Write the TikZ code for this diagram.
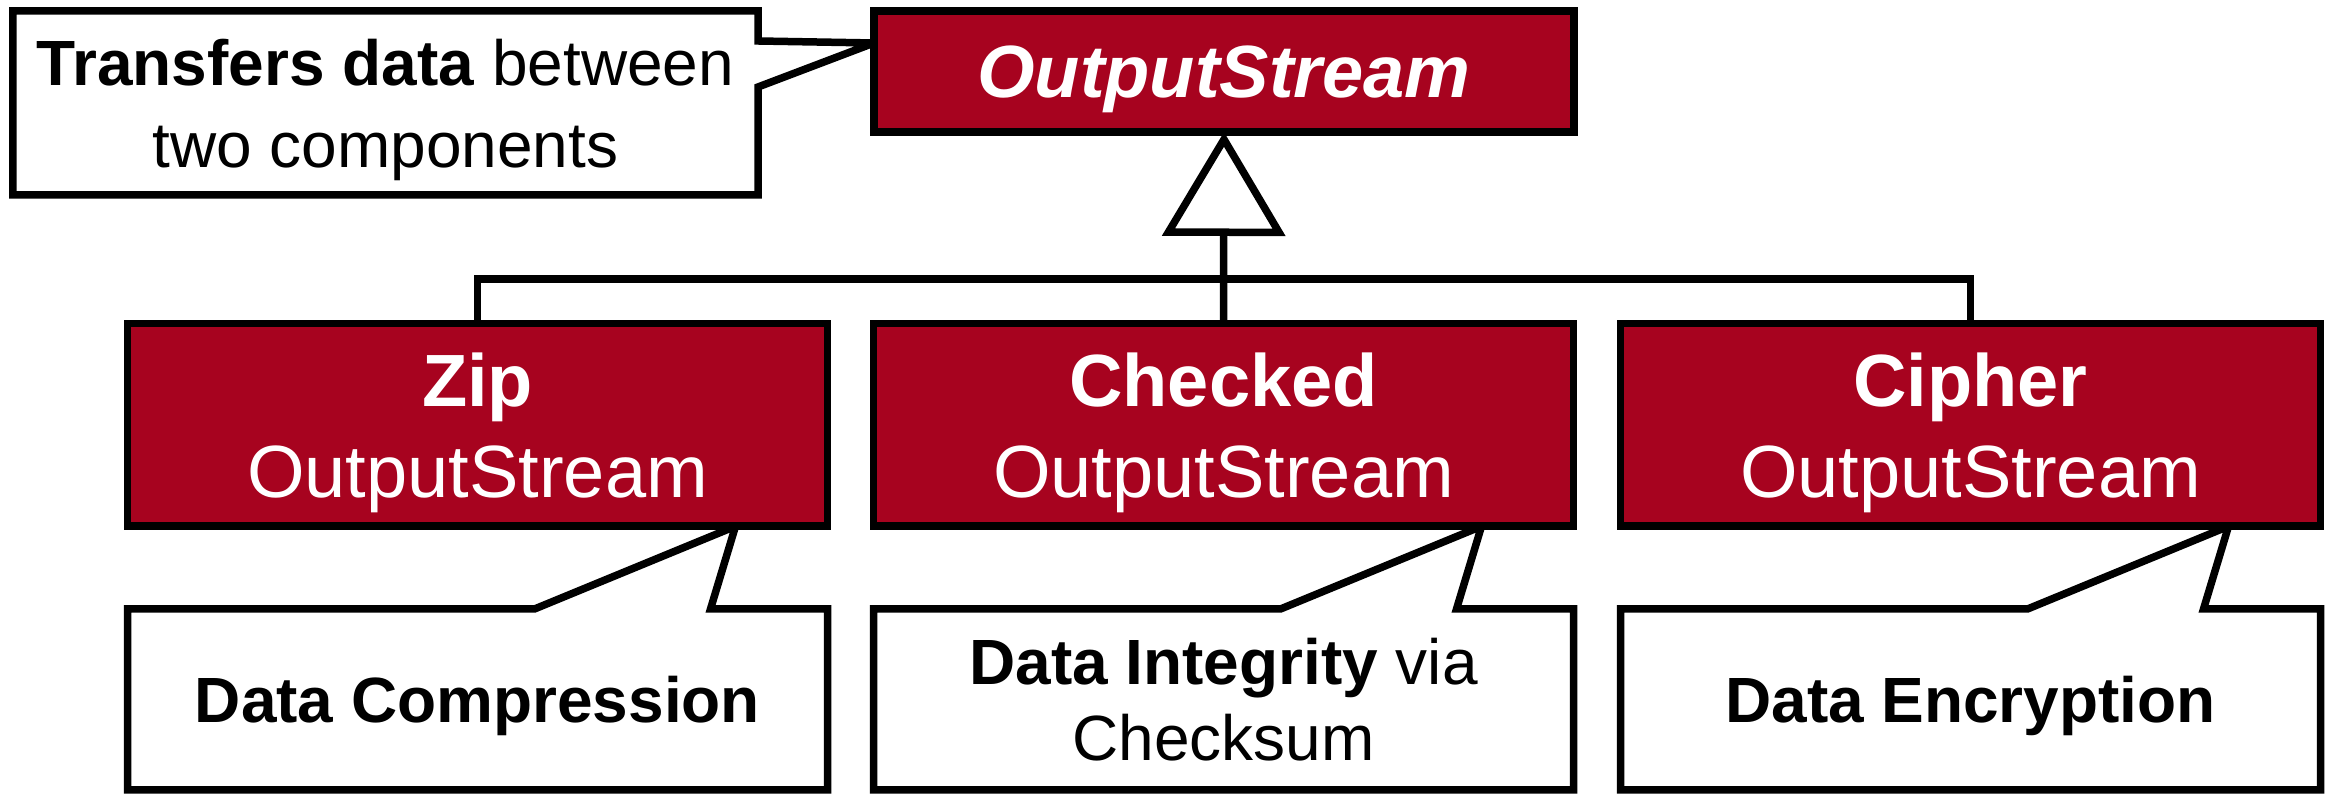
\documentclass[tikz,border=0pt]{standalone}
\usepackage{fontspec}
\setmainfont{Liberation Sans}
\usetikzlibrary{arrows.meta,calc}
\definecolor{classred}{RGB}{167,3,31}
\pgfdeclarelayer{bg}
\pgfdeclarelayer{mid}
\pgfsetlayers{bg,mid,main}
\tikzset{
  lw/.style={line width=0.075cm, line join=miter},
  classbox/.style={lw, draw=black, fill=classred, text=white, align=center,
    minimum width=7.00cm, minimum height=2.025cm, inner sep=0pt, outer sep=0pt,
    text depth=0pt, font=\fontsize{21.06}{25.9}\selectfont},
  topbox/.style={classbox, minimum height=1.21cm},
  notebody/.style={draw=none, align=center, inner sep=0pt, outer sep=0pt,
    minimum width=7.00cm, minimum height=1.81cm, text depth=0pt,
    font=\fontsize{18.2}{21.6}\selectfont},
  noteline/.style={lw, draw=black, fill=white},
  conn/.style={lw, draw=black},
  gen/.style={conn, -{Triangle[open, length=1.04cm, width=1.22cm]}}
}
\begin{document}
\begin{tikzpicture}
\useasboundingbox (0,0) rectangle (23.30,-7.95);
\begin{pgfonlayer}{bg}
  \fill[white] (0,0) rectangle (23.30,-7.95);
\end{pgfonlayer}

% class boxes
\node[topbox] (top) at (12.24,-0.715) {\bfseries\itshape OutputStream};
\node[classbox] (zip) at (4.775,-4.25) {\bfseries Zip\\OutputStream};
\node[classbox] (checked) at (12.235,-4.25) {\bfseries Checked\\OutputStream};
\node[classbox] (cipher) at (19.705,-4.25) {\bfseries Cipher\\OutputStream};

% notes (bodies with text)
\node[notebody, minimum width=7.45cm, minimum height=1.84cm,
  font=\fontsize{18.2}{23.3}\selectfont] (topnote) at (3.855,-1.03)
  {\textbf{Transfers data} between\\two components};
\node[notebody] (zipnote) at (4.775,-6.995) {\bfseries Data Compression};
\node[notebody] (checkednote) at (12.235,-6.995) {\textbf{Data Integrity} via\\Checksum};
\node[notebody] (ciphernote) at (19.705,-6.995) {\bfseries Data Encryption};

\coordinate (bar) at (12.235,-2.79);
\coordinate (toptip) at ($(top.north west)+(0,-0.32)$);
\coordinate (ziptip) at ($(zip.south west)+(6.08,0)$);
\coordinate (checkedtip) at ($(checked.south west)+(6.08,0)$);
\coordinate (ciphertip) at ($(cipher.south west)+(6.08,0)$);

\begin{pgfonlayer}{mid}
  % note outlines with tails
  \draw[noteline] (topnote.north west) -- (topnote.north east)
    -- ($(topnote.north east)+(0,-0.30)$) -- (toptip)
    -- ($(topnote.north east)+(0,-0.76)$) -- (topnote.south east)
    -- (topnote.south west) -- cycle;
  \foreach \n in {zip,checked,cipher}{
    \draw[noteline] (\n note.north west) -- ($(\n note.north west)+(4.07,0)$)
      -- (\n tip) -- ($(\n note.north west)+(5.83,0)$)
      -- (\n note.north east) -- (\n note.south east)
      -- (\n note.south west) -- cycle;
  }
  % inheritance tree
  \draw[conn] (zip.north) |- (bar) -| (cipher.north);
  \draw[gen] (checked.north) -- (top.south);
\end{pgfonlayer}
\end{tikzpicture}
\end{document}
